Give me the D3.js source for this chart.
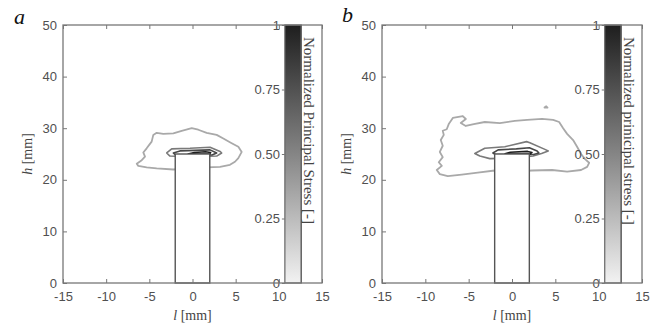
<!DOCTYPE html>
<html>
<head>
<meta charset="utf-8">
<script src="https://cdn.jsdelivr.net/npm/d3@7"></script>
<style>
body { margin: 0; background: #fff; }
.axis text { font-family: "Liberation Sans", Arial, sans-serif; font-size: 13px; fill: #505050; }
.axis line { stroke: #777; }
.axis path { display: none; }
.serif { font-family: "Liberation Serif", "Times New Roman", serif; fill: #444; }
</style>
</head>
<body>
<div id="chart"></div>
<script>
// axis ticks
const xTicks = [-15, -10, -5, 0, 5, 10, 15];
const yTicks = [0, 10, 20, 30, 40, 50];
const cbTicks = [0, 0.25, 0.5, 0.75, 1];
const cbTickLabels = ["0", "0.25", "0.50", "0.75", "1"];

// pillar (mm) and colorbar column (in x units)
const pillarX = [-2, 2];
const pillarH = 25;
const cbSpan = [10.7, 12.6];

// contour levels, light -> dark
const levelColors = ["#a9a9a9", "#7a7a7a", "#474747", "#1e1e1e"];

// panel a contours [l, h] in mm
const outerA = [[-6.46,23.1],[-5.88,23.8],[-5.5,24.5],[-5.7,25.3],[-5.31,26.1],[-4.73,27.4],[-4.54,28.7],[-4.15,29.1],[-3.38,28.9],[-2.22,29.0],[-1.25,29.5],[-0.09,30.0],[0.67,29.7],[1.64,29.1],[2.8,28.7],[3.57,28.0],[4.54,27.1],[5.31,26.4],[5.7,25.4],[5.31,24.2],[4.92,23.5],[4.34,22.9],[3.19,22.5],[1.64,22.4],[0.49,22.5],[-0.67,22.2],[-2.22,22.0],[-4.15,22.2],[-5.31,22.4],[-6.28,22.7]];
const midA = [[-2.99,25.2],[-2.41,26.0],[-0.29,26.1],[2.03,26.3],[3.19,25.5],[3.38,25.2],[2.8,24.6],[-0.29,24.5],[-2.61,24.6]];
const darkA = [[-2.22,25.2],[-1.45,25.6],[0.29,25.7],[2.03,25.8],[2.8,25.2],[2.26,24.8],[-1.97,24.8]];
const coreA = [[-0.5,25.0],[0.2,25.3],[1.5,25.45],[2.1,25.3],[2.0,25.0]];

// panel b contours
const outerB = [[-6.83,31.98],[-5.68,32.36],[-5.33,31.78],[-5.91,31.0],[-5.33,30.43],[-4.41,30.81],[-3.14,31.2],[-1.4,31.0],[0.33,31.4],[1.75,31.6],[3.47,31.8],[4.74,31.6],[5.44,31.2],[5.9,30.0],[6.36,28.9],[7.05,27.7],[7.51,26.4],[7.97,25.0],[8.43,24.0],[8.9,23.3],[8.67,22.5],[7.97,21.9],[6.36,21.6],[4.63,21.9],[2.32,21.8],[0.01,21.6],[-2.0,21.8],[-3.95,21.4],[-5.8,21.0],[-7.41,20.7],[-8.33,21.1],[-8.68,21.9],[-8.1,22.7],[-8.45,23.4],[-7.99,24.4],[-8.33,25.4],[-7.99,26.6],[-8.22,27.7],[-7.87,28.7],[-7.99,29.5],[-7.53,29.8],[-7.3,30.8],[-7.06,31.4]];
const spotB = [[3.75,34.0],[3.95,34.25],[4.1,34.0]];
const midB = [[-4.29,25.1],[-3.14,26.1],[-0.83,26.4],[1.68,27.4],[2.06,27.2],[3.8,25.9],[4.18,25.6],[3.41,25.1],[2.44,24.6],[-0.25,24.2],[-2.56,24.1],[-3.71,24.6]];
const darkB = [[-2.2,25.2],[-1.6,25.8],[0.5,26.0],[2.0,26.2],[2.9,25.6],[3.1,25.2],[2.5,24.9],[-1.9,24.9]];
const coreB = [[-0.8,25.05],[-0.2,25.35],[1.8,25.5],[2.3,25.3],[2.1,25.0]];

const panels = [
    {id: "a", left: 63, right: 322, letterX: 14, letterY: 24, cbLabel: "Normalized Principal Stress [-]",
     contours: [[outerA, 0], [midA, 1], [darkA, 2], [coreA, 3]]},
    {id: "b", left: 382, right: 642, letterX: 342, letterY: 22, cbLabel: "Normalized prinicipal stress [-]",
     contours: [[outerB, 0], [spotB, 0], [midB, 1], [darkB, 2], [coreB, 3]]}
];

const W = 658, H = 324, plotTop = 25, plotBottom = 283;

const svg = d3.select("#chart").append("svg")
    .attr("width", W)
    .attr("height", H);

// colorbar gradient
const grad = svg.append("defs").append("linearGradient")
    .attr("id", "cbGrad")
    .attr("x1", 0).attr("y1", 1).attr("x2", 0).attr("y2", 0);
grad.append("stop").attr("offset", "0%").attr("stop-color", "#f2f2f2");
grad.append("stop").attr("offset", "50%").attr("stop-color", "#858585");
grad.append("stop").attr("offset", "100%").attr("stop-color", "#1e1e1e");

panels.forEach(p => {
    let x = d3.scaleLinear().domain([-15, 15]).range([p.left, p.right]);
    let y = d3.scaleLinear().domain([0, 50]).range([plotBottom, plotTop]);
    let g = svg.append("g");

    g.append("rect")
        .attr("x", p.left).attr("y", plotTop)
        .attr("width", p.right - p.left).attr("height", plotBottom - plotTop)
        .attr("fill", "#fff");

    // contour lines
    let line = d3.line()
        .x(d => x(d[0]))
        .y(d => y(d[1]))
        .curve(d3.curveLinearClosed);

    p.contours.forEach(c => {
        g.append("path")
            .attr("d", line(c[0]))
            .attr("fill", "none")
            .attr("stroke", levelColors[c[1]])
            .attr("stroke-width", c[1] === 0 ? 1.8 : 1.6)
            .attr("stroke-linejoin", "round");
    });

    // pillar
    g.append("rect")
        .attr("x", x(pillarX[0]))
        .attr("y", y(pillarH))
        .attr("width", x(pillarX[1]) - x(pillarX[0]))
        .attr("height", y(0) - y(pillarH))
        .attr("fill", "#fff")
        .attr("stroke", "#555")
        .attr("stroke-width", 1.4);

    // axes (hyphen minus like the original)
    g.append("g")
        .attr("class", "axis")
        .attr("transform", `translate(0, ${plotBottom})`)
        .call(d3.axisBottom(x).tickValues(xTicks).tickSize(-4).tickPadding(9)
            .tickFormat(d => String(d)));

    g.append("g")
        .attr("class", "axis")
        .attr("transform", `translate(0, ${plotTop})`)
        .call(d3.axisTop(x).tickValues(xTicks).tickSize(-4).tickFormat(""));

    g.append("g")
        .attr("class", "axis")
        .attr("transform", `translate(${p.left}, 0)`)
        .call(d3.axisLeft(y).tickValues(yTicks).tickSize(-4).tickPadding(6));

    // colorbar
    let cy = d3.scaleLinear().domain([0, 1]).range([plotBottom, plotTop]);
    let cbL = x(cbSpan[0]), cbR = x(cbSpan[1]);

    g.append("rect")
        .attr("x", cbL).attr("y", plotTop)
        .attr("width", cbR - cbL).attr("height", plotBottom - plotTop)
        .attr("fill", "url(#cbGrad)")
        .attr("stroke", "#666")
        .attr("stroke-width", 1.2);

    g.append("g")
        .attr("class", "axis")
        .attr("transform", `translate(${cbL}, 0)`)
        .call(d3.axisLeft(cy).tickValues(cbTicks).tickSize(3).tickPadding(2)
            .tickFormat((d, i) => cbTickLabels[i]));

    g.append("line")
        .attr("x1", cbR).attr("x2", cbR)
        .attr("y1", plotTop).attr("y2", plotBottom)
        .attr("stroke", "#666")
        .attr("stroke-width", 1.2);

    g.append("text")
        .attr("class", "serif")
        .attr("transform", `translate(${cbR + 3}, ${plotTop + 12}) rotate(90)`)
        .style("font-size", "15px")
        .text(p.cbLabel);

    // frame
    g.append("rect")
        .attr("x", p.left).attr("y", plotTop)
        .attr("width", p.right - p.left).attr("height", plotBottom - plotTop)
        .attr("fill", "none")
        .attr("stroke", "#777")
        .attr("stroke-width", 1.3);

    // axis titles
    let xl = g.append("text")
        .attr("class", "serif")
        .attr("x", (p.left + p.right) / 2)
        .attr("y", 320)
        .attr("text-anchor", "middle")
        .style("font-size", "14px");
    xl.append("tspan").style("font-style", "italic").text("l");
    xl.append("tspan").text(" [mm]");

    let yl = g.append("text")
        .attr("class", "serif")
        .attr("transform", `translate(${p.left - 31}, ${(plotTop + plotBottom) / 2}) rotate(-90)`)
        .attr("text-anchor", "middle")
        .style("font-size", "14px");
    yl.append("tspan").style("font-style", "italic").text("h");
    yl.append("tspan").text(" [mm]");

    // panel letter
    g.append("text")
        .attr("class", "serif")
        .attr("x", p.letterX)
        .attr("y", p.letterY)
        .style("font-size", "22px")
        .style("font-style", "italic")
        .style("fill", "#111")
        .text(p.id);
});
</script>
</body>
</html>
